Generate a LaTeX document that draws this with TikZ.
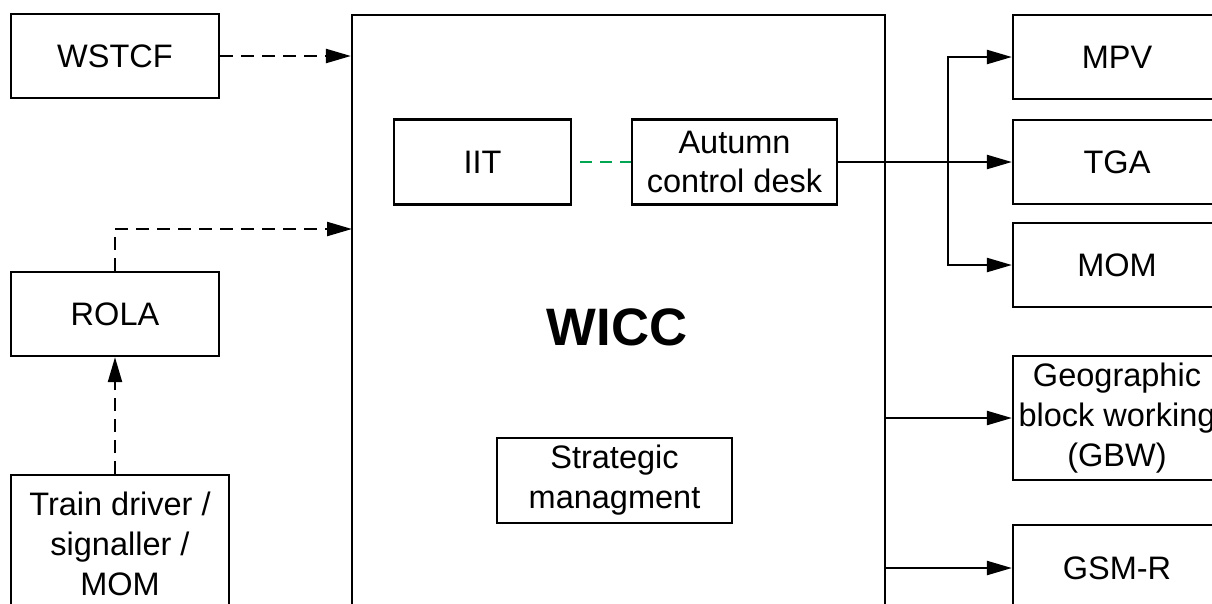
\documentclass[tikz,border=0pt]{standalone}
\usepackage{fontspec}
\setmainfont{Liberation Sans}
\usetikzlibrary{
  positioning,
  arrows.meta
}
\definecolor{linkgreen}{RGB}{0,166,81}

\begin{document}
\begin{tikzpicture}[
  x=0.02cm, y=-0.02cm,
  block/.style={draw, line width=1.3pt, inner sep=0pt, minimum width=4.16cm, minimum height=1.68cm, font=\fontsize{18.5}{22.7}\selectfont, align=center},
  title/.style={font=\fontsize{30}{36}\selectfont\bfseries},
  link/.style={line width=1.3pt, -{Triangle[length=0.5cm, width=0.28cm]}},
  dlink/.style={link, dash pattern=on 0.26cm off 0.16cm},
  glink/.style={line width=1.3pt, linkgreen, dash pattern=on 0.24cm off 0.16cm, dash phase=0.24cm},
]
\useasboundingbox (0,0) rectangle (1212,603);
\clip (0,0) rectangle (1212,603);

% WICC
\node[block, anchor=north, minimum width=10.66cm, minimum height=13cm] (wicc) at (618.5,14) {};
\node[title] (wicclabel) at (617,327) {WICC};
\node[block, minimum width=3.54cm, minimum height=1.7cm] (iit) at (482.5,162) {IIT};
\node[block, minimum width=4.1cm, minimum height=1.7cm] (desk) at (734.5,162) {Autumn\\control desk};
\node[block, minimum width=4.7cm, minimum height=1.7cm] (strat) at (614.5,480.5) {Strategic\\managment};

% Eingaenge links
\node[block] (wstcf) at (115,56) {WSTCF};
\node[block] (rola) at (115,314) {ROLA};
\node[block, anchor=north, minimum width=4.36cm, minimum height=0pt, inner ysep=0.34cm] (driver) at (120,474) {Train driver /\\signaller /\\MOM};

% Ausgaenge rechts
\node[block] (mpv) at (1117,57) {MPV};
\node[block] (tga) at (1117,162) {TGA};
\node[block] (mom) at (1117,265) {MOM};
\node[block, minimum height=2.48cm] (gbw) at (1117,418) {Geographic\\block working\\(GBW)};
\node[block, minimum height=1.72cm] (gsmr) at (1117,568) {GSM-R};

% Verbindungen
\coordinate (rolain) at (352,229);
\coordinate (fork) at (948,162);
\draw[dlink] (wstcf.east) -- (wstcf.east -| wicc.west);
\draw[dlink] (rola.north) |- (rolain);
\draw[dlink] (rola.south |- driver.north) -- (rola.south);
\draw[glink] (iit.east) -- (desk.west);
\draw[link] (desk.east) -- (tga.west);
\draw[link] (fork) |- (mpv.west);
\draw[link] (fork) |- (mom.west);
\draw[link] (gbw.west -| wicc.east) -- (gbw.west);
\draw[link] (gsmr.west -| wicc.east) -- (gsmr.west);

\end{tikzpicture}
\end{document}
